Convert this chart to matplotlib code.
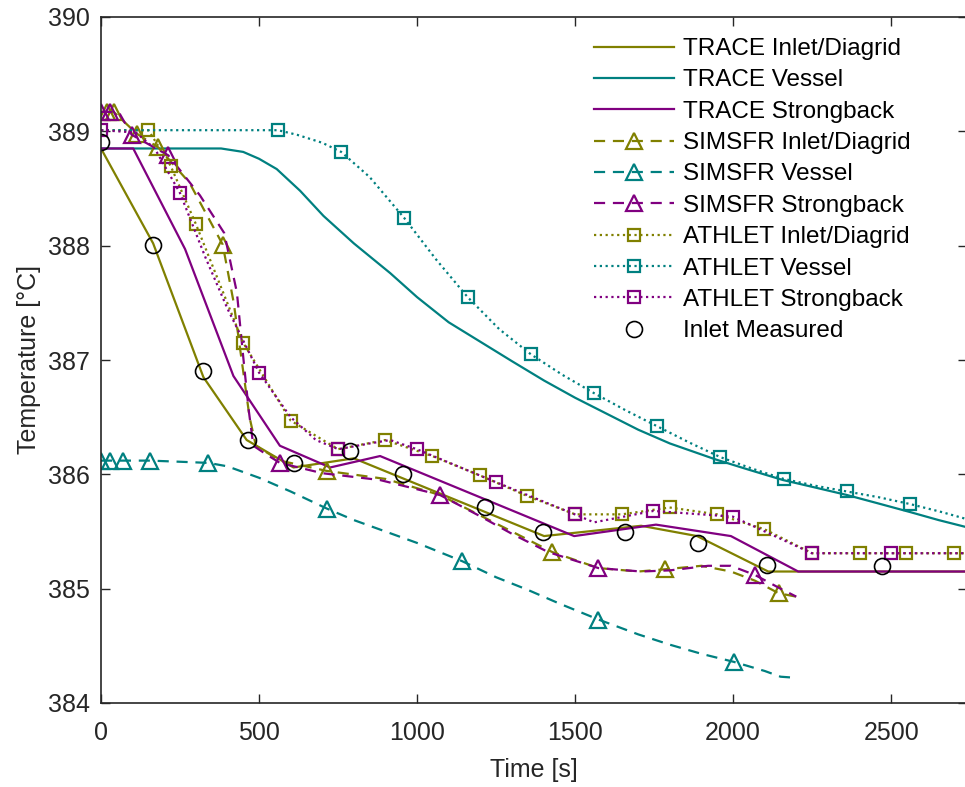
import matplotlib
matplotlib.use("Agg")
import matplotlib.pyplot as plt
from matplotlib.lines import Line2D
import numpy as np

plt.rcParams['font.family'] = ['Liberation Sans', 'DejaVu Sans']

# ---------------- data ----------------
trace_inlet_x = [0, 165, 324, 461, 609, 800, 1402, 1709, 1886, 2111, 2750]
trace_inlet_y = [388.85, 388.02, 386.85, 386.30, 386.06, 386.14, 385.46, 385.55, 385.46, 385.15, 385.15]

trace_vessel_x = [0, 380, 450, 500, 556, 630, 704, 800, 915, 1000, 1100, 1200, 1300, 1402, 1500,
                  1600, 1700, 1800, 1945, 2050, 2158, 2259, 2359, 2460, 2560, 2650, 2750]
trace_vessel_y = [388.85, 388.85, 388.82, 388.76, 388.67, 388.48, 388.26, 388.02, 387.76, 387.55,
                  387.33, 387.16, 386.99, 386.82, 386.67, 386.53, 386.39, 386.27, 386.13, 386.04,
                  385.95, 385.885, 385.82, 385.745, 385.67, 385.60, 385.53]

trace_strong_x = [0, 102, 266, 419, 566, 725, 883, 1497, 1756, 1993, 2206, 2750]
trace_strong_y = [388.85, 388.85, 387.97, 386.86, 386.25, 386.06, 386.16, 385.46, 385.56, 385.46, 385.15, 385.15]

simsfr_inlet_x = [20, 40, 113, 181, 280, 385, 420, 450, 470, 490, 566, 714, 900, 1072, 1200,
                  1300, 1428, 1574, 1700, 1786, 1900, 1993, 2069, 2144, 2200]
simsfr_inlet_y = [389.17, 389.17, 388.98, 388.86, 388.55, 388.01, 387.50, 386.90, 386.50, 386.25,
                  386.12, 386.03, 385.96, 385.82, 385.64, 385.50, 385.32, 385.18, 385.15, 385.17,
                  385.20, 385.15, 385.07, 384.96, 384.93]
simsfr_inlet_mk = [0, 1, 2, 3, 5, 11, 16, 19, 23]

simsfr_vessel_x = [0, 28, 71, 155, 250, 340, 400, 500, 600, 715, 800, 900, 1000, 1143, 1250,
                   1350, 1450, 1574, 1700, 1800, 1900, 2002, 2100, 2150, 2200]
simsfr_vessel_y = [386.12, 386.12, 386.12, 386.12, 386.11, 386.10, 386.07, 385.97, 385.85, 385.70,
                   385.60, 385.50, 385.40, 385.24, 385.10, 384.99, 384.87, 384.73, 384.60, 384.51,
                   384.43, 384.36, 384.28, 384.23, 384.22]
simsfr_vessel_mk = [0, 1, 2, 3, 5, 9, 13, 17, 21]

simsfr_strong_x = [0, 30, 60, 97, 213, 313, 390, 430, 451, 467, 482, 520, 566, 700, 883, 1072,
                   1202, 1300, 1415, 1574, 1709, 1800, 1921, 1993, 2069, 2150, 2200]
simsfr_strong_y = [389.17, 389.17, 389.15, 388.97, 388.79, 388.44, 388.11, 387.59, 387.00, 386.57,
                   386.25, 386.18, 386.10, 386.01, 385.95, 385.82, 385.63, 385.48, 385.32, 385.18,
                   385.15, 385.16, 385.20, 385.20, 385.12, 385.00, 384.93]
simsfr_strong_mk = [0, 1, 3, 4, 12, 15, 19, 24]

athlet_inlet_x = [0, 150, 220, 300, 450, 600, 750, 899, 1048, 1199, 1349, 1500, 1648, 1799, 1950,
                  2099, 2250, 2400, 2548, 2700, 2750]
athlet_inlet_y = [389.01, 389.01, 388.70, 388.19, 387.15, 386.47, 386.22, 386.30, 386.16, 385.99,
                  385.81, 385.65, 385.65, 385.71, 385.65, 385.52, 385.31, 385.31, 385.31, 385.31, 385.31]
athlet_inlet_mk = list(range(1, 20))

athlet_vessel_x = [0, 560, 620, 700, 760, 850, 960, 1060, 1160, 1260, 1360, 1460, 1560, 1660, 1760,
                   1860, 1960, 2060, 2160, 2260, 2360, 2460, 2560, 2660, 2750]
athlet_vessel_y = [389.01, 389.01, 388.97, 388.90, 388.82, 388.60, 388.24, 387.88, 387.55, 387.27,
                   387.05, 386.87, 386.71, 386.56, 386.42, 386.28, 386.15, 386.05, 385.96, 385.90,
                   385.85, 385.80, 385.74, 385.67, 385.60]
athlet_vessel_mk = [1, 4, 6, 8, 10, 12, 14, 16, 18, 20, 22]

athlet_strong_x = [0, 110, 170, 250, 330, 400, 500, 600, 680, 751, 850, 915, 999, 1251, 1499, 1560,
                   1748, 1999, 2249, 2500, 2750]
athlet_strong_y = [389.01, 388.99, 388.85, 388.46, 387.90, 387.45, 386.89, 386.50, 386.30, 386.22,
                   386.27, 386.30, 386.22, 385.93, 385.65, 385.58, 385.68, 385.63, 385.31, 385.31, 385.31]
athlet_strong_mk = [0, 3, 6, 9, 12, 13, 14, 16, 17, 18, 19]

meas_x = [0, 166, 322, 466, 611, 788, 954, 1214, 1399, 1658, 1889, 2107, 2472]
meas_y = [388.91, 388.01, 386.90, 386.30, 386.10, 386.20, 386.00, 385.71, 385.50, 385.50, 385.40, 385.21, 385.20]

labels = ["TRACE Inlet/Diagrid", "TRACE Vessel", "TRACE Strongback",
          "SIMSFR Inlet/Diagrid", "SIMSFR Vessel", "SIMSFR Strongback",
          "ATHLET Inlet/Diagrid", "ATHLET Vessel", "ATHLET Strongback",
          "Inlet Measured"]

x_ticks = [0, 500, 1000, 1500, 2000, 2500]
y_ticks = [384, 385, 386, 387, 388, 389, 390]

# ---------------- style ----------------
OL = '#808000'
TE = '#008080'
PU = '#800080'
DK = '#262626'
LW = 1.6
MEW = 1.6
TRI = 11.5
SQ = 8
CIR = 11.5

fig = plt.figure(figsize=(9.65, 7.87), dpi=100)
ax = fig.add_axes([101 / 965, 1 - 703 / 787, 866 / 965, (703 - 17) / 787])

ax.plot(trace_inlet_x, trace_inlet_y, '-', color=OL, lw=LW)
ax.plot(trace_vessel_x, trace_vessel_y, '-', color=TE, lw=LW)
ax.plot(trace_strong_x, trace_strong_y, '-', color=PU, lw=LW)

dash = (0, (5, 3.5))
for xs, ys, mk, c in [(simsfr_inlet_x, simsfr_inlet_y, simsfr_inlet_mk, OL),
                      (simsfr_vessel_x, simsfr_vessel_y, simsfr_vessel_mk, TE),
                      (simsfr_strong_x, simsfr_strong_y, simsfr_strong_mk, PU)]:
    ax.plot(xs, ys, linestyle=dash, color=c, lw=LW, marker='^', markevery=mk,
            markersize=TRI, markerfacecolor='none', markeredgecolor=c, markeredgewidth=MEW)

dot = (0, (1, 1.6))
for xs, ys, mk, c in [(athlet_inlet_x, athlet_inlet_y, athlet_inlet_mk, OL),
                      (athlet_vessel_x, athlet_vessel_y, athlet_vessel_mk, TE),
                      (athlet_strong_x, athlet_strong_y, athlet_strong_mk, PU)]:
    ax.plot(xs, ys, linestyle=dot, color=c, lw=LW, marker='s', markevery=mk,
            markersize=SQ, markerfacecolor='none', markeredgecolor=c, markeredgewidth=MEW)

ax.plot(meas_x, meas_y, linestyle='none', marker='o', markersize=CIR,
        markerfacecolor='none', markeredgecolor='black', markeredgewidth=1.2)

ax.set_xlim(0, 2740)
ax.set_ylim(384, 390)
ax.set_xticks(x_ticks)
ax.set_yticks(y_ticks)
ax.tick_params(direction='in', length=6.5, width=1.0, colors=DK, labelsize=18,
               top=True, right=True)
ax.tick_params(axis='x', pad=13)
ax.tick_params(axis='y', pad=8)
for sp in ax.spines.values():
    sp.set_color(DK)
    sp.set_linewidth(1.2)
ax.set_xlabel('Time [s]', fontsize=18, color=DK, labelpad=9)
ax.set_ylabel('Temperature [°C]', fontsize=18, color=DK, labelpad=5)

handles = [
    Line2D([], [], color=OL, lw=LW),
    Line2D([], [], color=TE, lw=LW),
    Line2D([], [], color=PU, lw=LW),
]
for c in (OL, TE, PU):
    handles.append(Line2D([], [], color=c, lw=LW, linestyle=dash, marker='^', markersize=TRI,
                          markerfacecolor='none', markeredgecolor=c, markeredgewidth=MEW))
for c in (OL, TE, PU):
    handles.append(Line2D([], [], color=c, lw=LW, linestyle=dot, marker='s', markersize=SQ,
                          markerfacecolor='none', markeredgecolor=c, markeredgewidth=MEW))
handles.append(Line2D([], [], linestyle='none', marker='o', markersize=CIR,
                      markerfacecolor='none', markeredgecolor='black', markeredgewidth=1.2))

leg = ax.legend(handles, labels, loc='upper left', bbox_to_anchor=(594 / 965, 1 - 38 / 787),
                bbox_transform=fig.transFigure, frameon=False, fontsize=17.5,
                handlelength=3.3, handletextpad=0.35, labelspacing=0.385, borderpad=0,
                borderaxespad=0)
for t in leg.get_texts():
    t.set_color('black')

fig.savefig('out.png', dpi=100)
